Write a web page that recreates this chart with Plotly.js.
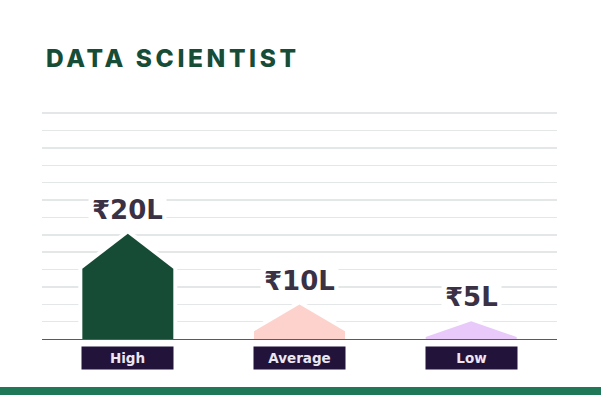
<!DOCTYPE html>
<html>
<head>
<meta charset="utf-8">
<script src="https://cdn.plot.ly/plotly-3.0.1.min.js"></script>
<style>
  html, body { margin: 0; padding: 0; background: #ffffff; }
  #chart { width: 601px; height: 395px; }
  .gtitle { letter-spacing: 3.6px; }
</style>
</head>
<body>
<div id="chart"></div>
<script>
// ---- data ----
const categories = ['High', 'Average', 'Low'];
const valueLabels = ['₹20L', '₹10L', '₹5L'];
// heights in gridline units (1 unit = one gridline step)
const roofTop = [6.06, 1.98, 1.02];   // apex of each house-shaped bar
const wallTop = [4.05, 0.44, 0.12];   // top of the vertical sides
const gridSteps = [0,1,2,3,4,5,6,7,8,9,10,11,12,13];

// ---- styles ----
const barColors = ['#164b35', '#fdd2cd', '#e8c9fa'];
const halfW = 0.265;
const labelFont = 'DejaVu Sans, Inter, sans-serif';

const haloTraces = [];
const barTraces = [];
categories.forEach((c, i) => {
  const xs = [i - halfW, i - halfW, i, i + halfW, i + halfW, i - halfW];
  const ys = [0, wallTop[i], roofTop[i], wallTop[i], 0, 0];
  haloTraces.push({
    type: 'scatter', mode: 'lines', x: xs, y: ys, fill: 'toself',
    fillcolor: '#ffffff', line: {color: '#ffffff', width: 8},
    hoverinfo: 'skip', showlegend: false
  });
  barTraces.push({
    type: 'scatter', mode: 'lines', x: xs, y: ys, fill: 'toself',
    fillcolor: barColors[i], line: {width: 0, color: barColors[i]},
    name: c, hoverinfo: 'skip', showlegend: false
  });
});

const annotations = [];
categories.forEach((c, i) => {
  annotations.push({
    x: i, y: roofTop[i], xref: 'x', yref: 'y',
    text: valueLabels[i], showarrow: false,
    xanchor: 'center', yanchor: 'middle', yshift: 24,
    font: {family: labelFont, size: 26, color: '#3a3144', weight: 700},
    bgcolor: '#ffffff', borderpad: 3
  });
  annotations.push({
    x: i, y: -0.084, xref: 'x', yref: 'paper',
    text: c, showarrow: false,
    xanchor: 'center', yanchor: 'middle',
    width: 91, height: 22, borderpad: 0,
    bgcolor: '#22133a',
    font: {family: labelFont, size: 13.5, color: '#ece6f2', weight: 700}
  });
});

const layout = {
  width: 601, height: 395,
  margin: {l: 42, r: 44, t: 108, b: 56},
  paper_bgcolor: '#ffffff', plot_bgcolor: '#ffffff',
  title: {
    text: 'DATA SCIENTIST',
    x: 46 / 601, xref: 'container', xanchor: 'left',
    y: 1 - 58 / 395, yref: 'container', yanchor: 'middle',
    font: {family: 'Inter, DejaVu Sans, sans-serif', size: 24.5, color: '#174d36', weight: 800}
  },
  xaxis: {
    range: [-0.5, 2.5], showgrid: false, zeroline: false,
    showticklabels: false, ticks: '', fixedrange: true,
    showline: true, linecolor: '#5a5a5a', linewidth: 1
  },
  yaxis: {
    range: [0, 13.3], tickmode: 'array', tickvals: gridSteps,
    showticklabels: false, ticks: '', zeroline: false,
    showgrid: true, gridcolor: '#e3e7e7', gridwidth: 1.5,
    fixedrange: true
  },
  shapes: [{
    type: 'rect', xref: 'paper', yref: 'paper',
    x0: -0.2, x1: 1.2, y0: -0.2078, y1: -0.27,
    fillcolor: '#1f7857', line: {width: 0}, layer: 'above'
  }],
  annotations: annotations,
  showlegend: false
};

Plotly.newPlot('chart', haloTraces.concat(barTraces), layout, {staticPlot: true, displayModeBar: false});
</script>
</body>
</html>
